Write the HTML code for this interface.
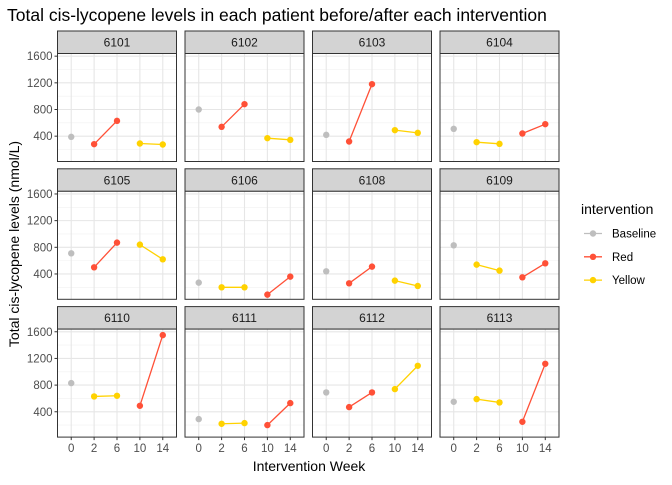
<!DOCTYPE html>
<html><head><meta charset="utf-8"><style>
body{margin:0;background:#fff;font-family:"Liberation Sans",Arial,sans-serif}
svg text{font-family:"Liberation Sans",Arial,sans-serif}
</style></head><body>
<svg id="chart" width="672" height="480" xmlns="http://www.w3.org/2000/svg"></svg>
<script>
const patients=["6101","6102","6103","6104","6105","6106","6108","6109","6110","6111","6112","6113"];
const weeks=["0","2","6","10","14"];
const baseline=[390,800,420,510,710,270,440,830,830,290,690,550];
const early=[[280,630],[540,880],[320,1180],[310,285],[500,870],[200,200],[260,510],[540,450],[630,640],[220,230],[470,690],[590,540]];
const late=[[290,275],[370,345],[490,450],[440,580],[840,620],[90,360],[300,220],[350,560],[490,1550],[200,530],[740,1090],[250,1120]];
const earlyColor=["Red","Red","Red","Yellow","Red","Yellow","Red","Yellow","Yellow","Yellow","Red","Yellow"];
const yTicks=[400,800,1200,1600];
const yMinor=[200,600,1000,1400];
const colors={Baseline:"#BEBEBE",Red:"#FF5037",Yellow:"#FFD200"};
const NS="http://www.w3.org/2000/svg";
const svg=document.getElementById("chart");
function mk(tag,attrs,parent){const e=document.createElementNS(NS,tag);for(const k in attrs)e.setAttribute(k,attrs[k]);(parent||svg).appendChild(e);return e;}
const PW=119,PH=108,SH=22.5,X0=57.5,Y0=31,CP=127.5,RP=137.8;
const yMin=20,yMax=1640;
function yS(v,top){return top+(yMax-v)/(yMax-yMin)*PH;}
function xS(i,left){const step=PW/5.2;return left+step*(0.6+i);}
let t=mk("text",{x:7,y:21,"font-size":"17.5",fill:"#000"});


t.textContent="Total cis-lycopene levels in each patient before/after each intervention";
patients.forEach((p,k)=>{
  const c=k%4,r=Math.floor(k/4);
  const left=X0+c*CP,stop=Y0+r*RP,top=stop+SH;
  const g=mk("g",{});
  
  
  const s=mk("rect",{x:left,y:stop,width:PW,height:SH,fill:"#D3D3D3",stroke:"#333","stroke-width":1},g);
  
  
  const st=mk("text",{x:left+PW/2,y:stop+15.5,"text-anchor":"middle","font-size":"12",fill:"#1A1A1A"},g);
  
  
  st.textContent=p;
  mk("rect",{x:left,y:top,width:PW,height:PH,fill:"#fff"},g);
  yMinor.forEach(v=>mk("line",{x1:left,x2:left+PW,y1:yS(v,top),y2:yS(v,top),stroke:"#F0F0F0","stroke-width":0.6},g));
  yTicks.forEach(v=>mk("line",{x1:left,x2:left+PW,y1:yS(v,top),y2:yS(v,top),stroke:"#E6E6E6","stroke-width":1.1},g));
  weeks.forEach((w,i)=>mk("line",{x1:xS(i,left),x2:xS(i,left),y1:top,y2:top+PH,stroke:"#E6E6E6","stroke-width":1.1},g));
  const lc=earlyColor[k]==="Red"?"Yellow":"Red";
  const segs=[[early[k],1,earlyColor[k]],[late[k],3,lc]];
  segs.forEach(([vals,i0,col])=>{
    const l=mk("line",{x1:xS(i0,left),y1:yS(vals[0],top),x2:xS(i0+1,left),y2:yS(vals[1],top),stroke:colors[col],"stroke-width":1.3},g);
    
    
    vals.forEach((v,j)=>{
      const pt=mk("circle",{cx:xS(i0+j,left),cy:yS(v,top),r:3.2,fill:colors[col]},g);
      
      
    });
  });
  const b=mk("circle",{cx:xS(0,left),cy:yS(baseline[k],top),r:3.2,fill:colors.Baseline},g);
  
  
  mk("rect",{x:left,y:top,width:PW,height:PH,fill:"none",stroke:"#333","stroke-width":1},g);
  if(c===0){yTicks.forEach(v=>{
    mk("line",{x1:left-3,x2:left,y1:yS(v,top),y2:yS(v,top),stroke:"#333"},g);
    const tt=mk("text",{x:left-5,y:yS(v,top)+4,"text-anchor":"end","font-size":"11.5",fill:"#4D4D4D"},g);
    
    
    tt.textContent=v;
  });}
  if(r===2){weeks.forEach((w,i)=>{
    mk("line",{x1:xS(i,left),x2:xS(i,left),y1:top+PH,y2:top+PH+3,stroke:"#333"},g);
    const tt=mk("text",{x:xS(i,left),y:top+PH+15,"text-anchor":"middle","font-size":"11.5",fill:"#4D4D4D"},g);
    
    
    tt.textContent=w;
  });}
});
t=mk("text",{x:309,y:471,"text-anchor":"middle","font-size":"14",fill:"#000"});


t.textContent="Intervention Week";
t=mk("text",{x:0,y:0,"text-anchor":"middle","font-size":"14",fill:"#000",transform:"translate(19,244) rotate(-90)"});


t.textContent="Total cis-lycopene levels (nmol/L)";
const lg=mk("g",{});


t=mk("text",{x:581,y:214,"font-size":"14",fill:"#000"},lg);


t.textContent="intervention";
["Baseline","Red","Yellow"].forEach((n,i)=>{
  const y=233.5+i*23.3;
  const e=mk("g",{},lg);
  
  
  mk("line",{x1:584,x2:602,y1:y,y2:y,stroke:colors[n],"stroke-width":1.3},e);
  mk("circle",{cx:593,cy:y,r:3.2,fill:colors[n]},e);
  const tt=mk("text",{x:612,y:y+4,"font-size":"11.5",fill:"#000"},e);
  tt.textContent=n;
});
</script>
</body></html>
